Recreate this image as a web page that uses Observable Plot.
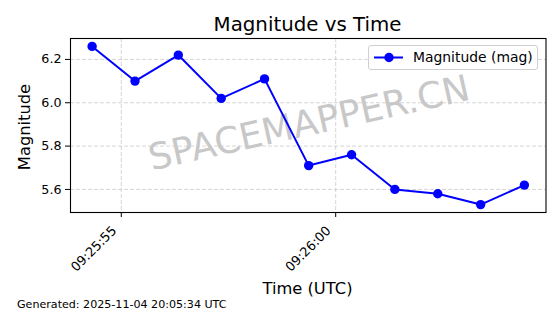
<!DOCTYPE html>
<html>
<head>
<meta charset="utf-8">
<script src="https://cdn.jsdelivr.net/npm/d3@7"></script>
<script src="https://cdn.jsdelivr.net/npm/@observablehq/plot@0.6"></script>
<style>
  html, body { margin: 0; padding: 0; background: white; }
  #wrap { position: relative; width: 560px; height: 314px; font-family: "DejaVu Sans", sans-serif; color: black; overflow: hidden; }
  #wrap svg { position: absolute; left: 0; top: 0; }
  .ov { position: absolute; white-space: nowrap; line-height: 1; }
</style>
</head>
<body>
<div id="wrap"></div>
<script>
// ---- data ----
const times = [
  "2025-11-04T09:25:54.32Z", "2025-11-04T09:25:55.32Z", "2025-11-04T09:25:56.33Z",
  "2025-11-04T09:25:57.33Z", "2025-11-04T09:25:58.34Z", "2025-11-04T09:25:59.37Z",
  "2025-11-04T09:26:00.37Z", "2025-11-04T09:26:01.38Z", "2025-11-04T09:26:02.38Z",
  "2025-11-04T09:26:03.38Z", "2025-11-04T09:26:04.40Z"
];
const magnitudes = [6.26, 6.10, 6.22, 6.02, 6.11, 5.71, 5.76, 5.60, 5.58, 5.53, 5.62];
const xTickValues = ["2025-11-04T09:25:55Z", "2025-11-04T09:26:00Z"];
const yTickValues = [5.6, 5.8, 6.0, 6.2];
const titleText = "Magnitude vs Time";
const xLabel = "Time (UTC)";
const yLabel = "Magnitude";
const seriesLabel = "Magnitude (mag)";
const watermark = "SPACEMAPPER.CN";
const footer = "Generated: 2025-11-04 20:05:34 UTC";

// ---- build ----
const data = times.map((t, i) => ({time: new Date(t), mag: magnitudes[i]}));
const xTicks = xTickValues.map(d => new Date(d));

// matplotlib-like 5% autoscale margins
const [t0, t1] = d3.extent(data, d => +d.time);
const tpad = (t1 - t0) * 0.05;
const [m0, m1] = d3.extent(data, d => d.mag);
const mpad = (m1 - m0) * 0.05;

const gridStyle = {stroke: "#b0b0b0", strokeOpacity: 0.6, strokeWidth: 0.9, strokeDasharray: "4,2"};

const chart = Plot.plot({
  width: 560,
  height: 314,
  marginLeft: 70,
  marginRight: 14.5,
  marginTop: 38,
  marginBottom: 102,
  style: {fontFamily: "DejaVu Sans, sans-serif", fontSize: "12.7px", background: "white", color: "black"},
  x: {type: "utc", domain: [new Date(t0 - tpad), new Date(t1 + tpad)]},
  y: {domain: [m0 - mpad, m1 + mpad]},
  marks: [
    Plot.gridX(xTicks, gridStyle),
    Plot.gridY(yTickValues, gridStyle),
    Plot.text([watermark], {text: d => d, frameAnchor: "middle", rotate: -12.5, fontSize: 36.5, fill: "#c8c8c8", dx: 1, dy: -2}),
    Plot.line(data, {x: "time", y: "mag", stroke: "#0000ff", strokeWidth: 2}),
    Plot.dot(data, {x: "time", y: "mag", r: 4.7, fill: "#0000ff", stroke: "none"}),
    Plot.frame({stroke: "black", strokeWidth: 1.1}),
    Plot.axisY(yTickValues, {tickFormat: d => d.toFixed(1), tickSize: 5, tickPadding: 4, label: null, fontSize: 12.7}),
    // tick marks only
    Plot.axisX(xTicks, {tickFormat: () => "", tickSize: 5, label: null}),
    // rotated labels only
    Plot.axisX(xTicks, {tickFormat: d3.utcFormat("%H:%M:%S"), tickRotate: -45, tickSize: 0, tickPadding: 9, label: null, fontSize: 12.9, dx: -7, dy: 7})
  ]
});

const wrap = document.getElementById("wrap");
wrap.appendChild(chart);

function addText(txt, css) {
  const d = document.createElement("div");
  d.className = "ov";
  d.textContent = txt;
  Object.assign(d.style, css);
  wrap.appendChild(d);
  return d;
}
// title
addText(titleText, {left: "307.5px", top: "24.5px", fontSize: "19.8px", transform: "translate(-50%,-50%)"});
// x label
addText(xLabel, {left: "307.5px", top: "289px", fontSize: "16.3px", transform: "translate(-50%,-50%)"});
// y label
addText(yLabel, {left: "25px", top: "127px", fontSize: "16.3px", transform: "translate(-50%,-50%) rotate(-90deg)"});
// footer
addText(footer, {left: "17px", top: "305px", fontSize: "11.1px", transform: "translateY(-50%)"});

// legend
const leg = document.createElement("div");
Object.assign(leg.style, {
  position: "absolute", left: "368px", top: "45px", width: "170px", height: "25px", boxSizing: "border-box",
  border: "1px solid #d0d0d0", borderRadius: "3px", background: "rgba(255,255,255,0.8)"
});
leg.innerHTML = `<svg width="40" height="23" style="position:absolute;left:4px;top:0">
  <line x1="1" y1="11.5" x2="30" y2="11.5" stroke="#0000ff" stroke-width="2"/>
  <circle cx="16" cy="11.5" r="4.7" fill="#0000ff"/></svg>`;
const lt = document.createElement("div");
lt.textContent = seriesLabel;
Object.assign(lt.style, {position: "absolute", left: "44px", top: "50%", transform: "translateY(-50%)", fontSize: "13.9px", whiteSpace: "nowrap", lineHeight: "1"});
leg.appendChild(lt);
wrap.appendChild(leg);
</script>
</body>
</html>
